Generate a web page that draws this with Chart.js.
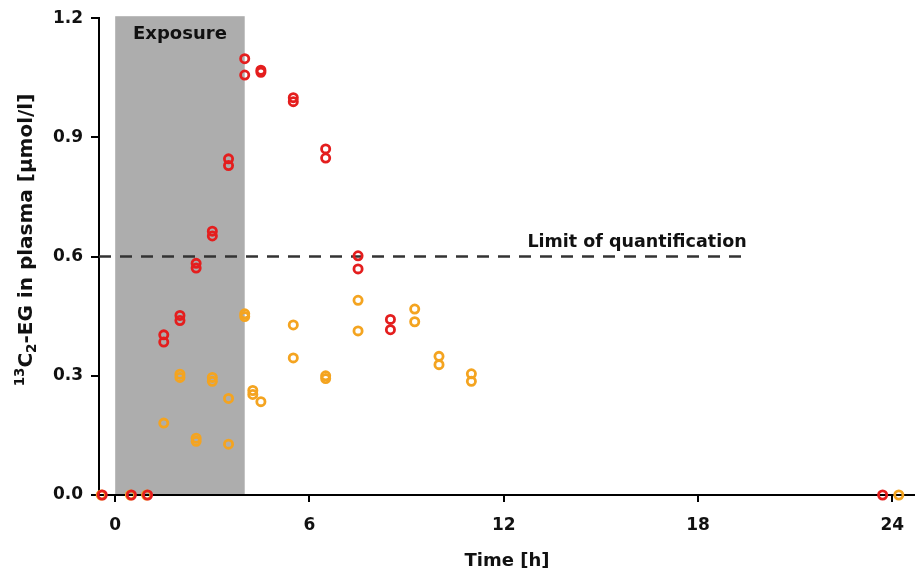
<!DOCTYPE html>
<html>
<head>
<meta charset="utf-8">
<script src="https://cdn.jsdelivr.net/npm/chart.js@4/dist/chart.umd.min.js"></script>
<style>
  html, body { margin: 0; padding: 0; background: #fff; }
  #wrap { width: 915px; height: 573px; }
</style>
</head>
<body>
<div id="wrap"><canvas id="chart" width="915" height="573"></canvas></div>
<script>
// time points [h] and 13C2-EG plasma concentrations [umol/l]
const redTime = [-0.4, 0.5, 1.0, 1.5, 1.5, 2, 2, 2.5, 2.5, 3, 3, 3.5, 3.5, 4, 4, 4.5, 4.5, 5.5, 5.5, 6.5, 6.5, 7.5, 7.5, 8.5, 8.5, 23.7];
const redConc = [0, 0, 0, 0.403, 0.385, 0.452, 0.439, 0.583, 0.571, 0.664, 0.652, 0.846, 0.829, 1.098, 1.057, 1.069, 1.064, 1.0, 0.99, 0.871, 0.848, 0.602, 0.569, 0.442, 0.416, 0];

const orangeTime = [-0.43, 0.47, 0.97, 1.5, 2, 2, 2.5, 2.5, 3, 3, 3.5, 3.5, 4, 4, 4.25, 4.25, 4.5, 5.5, 5.5, 6.5, 6.5, 7.5, 7.5, 9.25, 9.25, 10, 10, 11, 11, 24.2];
const orangeConc = [0, 0, 0, 0.181, 0.304, 0.296, 0.143, 0.135, 0.296, 0.286, 0.243, 0.128, 0.456, 0.449, 0.263, 0.253, 0.235, 0.428, 0.345, 0.300, 0.293, 0.490, 0.413, 0.468, 0.436, 0.349, 0.328, 0.305, 0.286, 0];

const xTickValues = [0, 2, 4, 6, 8, 10, 12, 14, 16, 18, 20, 22, 24];
const yTickValues = [0, 0.15, 0.3, 0.45, 0.6, 0.75, 0.9, 1.05, 1.2];

const exposureStart = 0;
const exposureEnd = 4;
const loqValue = 0.6;
const loqRange = [-0.5, 19.5];

const RED = '#e41e1e';
const ORANGE = '#f4a420';
const FONT = '"DejaVu Sans", "Liberation Sans", sans-serif';

const toPoints = (xs, ys) => xs.map((x, i) => ({ x: x, y: ys[i] }));

// grey exposure band + annotations drawn from the scales
const annotations = {
    id: 'annotations',
    beforeDraw(chart) {
        const { ctx, scales: { x, y } } = chart;
        ctx.save();
        ctx.fillStyle = '#adadad';
        const x0 = x.getPixelForValue(exposureStart);
        const x1 = x.getPixelForValue(exposureEnd);
        const yTop = y.getPixelForValue(1.2) - 2;
        const yBot = y.getPixelForValue(0);
        ctx.fillRect(x0, yTop, x1 - x0, yBot - yTop);
        ctx.restore();
    },
    afterDatasetsDraw(chart) {
        const { ctx, scales: { x, y } } = chart;
        ctx.save();
        ctx.fillStyle = '#111';
        ctx.font = 'bold 18px ' + FONT;
        ctx.textAlign = 'center';
        ctx.textBaseline = 'alphabetic';
        ctx.fillText('Exposure', x.getPixelForValue((exposureStart + exposureEnd) / 2), y.getPixelForValue(1.2) + 21);

        ctx.font = 'bold 17.5px ' + FONT;
        ctx.textAlign = 'right';
        ctx.fillText('Limit of quantification', x.getPixelForValue(loqRange[1]), y.getPixelForValue(loqValue) - 10);
        ctx.restore();
    },
    afterDraw(chart) {
        // y axis title with superscript / subscript
        const { ctx } = chart;
        const big = 'bold 20px ' + FONT;
        const small = 'bold 13.5px ' + FONT;
        const parts = [
            { t: '13', f: small, dy: -8 },
            { t: 'C', f: big, dy: 0 },
            { t: '2', f: small, dy: 4 },
            { t: '-EG in plasma [µmol/l]', f: big, dy: 0 }
        ];
        ctx.save();
        let total = 0;
        parts.forEach(p => { ctx.font = p.f; p.w = ctx.measureText(p.t).width; total += p.w; });
        ctx.translate(32, 240);
        ctx.rotate(-Math.PI / 2);
        ctx.fillStyle = '#111';
        ctx.textBaseline = 'alphabetic';
        ctx.textAlign = 'left';
        let cx = -total / 2;
        parts.forEach(p => {
            ctx.font = p.f;
            ctx.fillText(p.t, cx, p.dy);
            cx += p.w;
        });
        ctx.restore();
    }
};

const chart = new Chart(document.getElementById('chart'), {
    type: 'scatter',
    data: {
        datasets: [
            {
                label: 'Limit of quantification',
                type: 'line',
                data: toPoints(loqRange, [loqValue, loqValue]),
                borderColor: '#333',
                borderWidth: 2.5,
                borderDash: [12, 9],
                pointRadius: 0,
                fill: false,
                order: 3
            },
            {
                label: 'red',
                data: toPoints(redTime, redConc),
                borderColor: RED,
                backgroundColor: 'rgba(0,0,0,0)',
                pointRadius: 4.1,
                pointBorderWidth: 2.8,
                clip: false,
                order: 1
            },
            {
                label: 'orange',
                data: toPoints(orangeTime, orangeConc),
                borderColor: ORANGE,
                backgroundColor: 'rgba(0,0,0,0)',
                pointRadius: 4.1,
                pointBorderWidth: 2.8,
                clip: false,
                order: 2
            }
        ]
    },
    options: {
        responsive: false,
        animation: false,
        layout: {
            autoPadding: false,
            padding: { top: 15, right: 0, left: 0, bottom: 0 }
        },
        plugins: {
            legend: { display: false },
            tooltip: { enabled: false }
        },
        scales: {
            x: {
                type: 'linear',
                min: -0.5,
                max: 24.7,
                afterBuildTicks: (scale) => {
                    scale.ticks = xTickValues.map(v => ({ value: v }));
                },
                afterFit: (scale) => {
                    scale.height = 78;
                    scale.paddingLeft = 0;
                    scale.paddingRight = 0;
                },
                ticks: {
                    autoSkip: false,
                    maxRotation: 0,
                    padding: 13,
                    color: '#111',
                    font: { family: FONT, size: 17, weight: 'bold' },
                    callback: (v) => (v % 6 === 0 ? String(v) : null)
                },
                grid: {
                    drawOnChartArea: false,
                    drawTicks: true,
                    tickLength: 7,
                    lineWidth: 2,
                    color: '#000'
                },
                border: { display: true, color: '#000', width: 2 },
                title: {
                    display: true,
                    text: 'Time [h]',
                    color: '#111',
                    font: { family: FONT, size: 18, weight: 'bold' },
                    padding: { top: 0, bottom: 1 }
                }
            },
            y: {
                type: 'linear',
                min: 0,
                max: 1.2,
                afterBuildTicks: (scale) => {
                    scale.ticks = yTickValues.map(v => ({ value: v }));
                },
                afterFit: (scale) => { scale.width = 99; },
                ticks: {
                    autoSkip: false,
                    padding: 8,
                    color: '#111',
                    font: { family: FONT, size: 17, weight: 'bold' },
                    callback: (v) => {
                        const k = v / 0.3;
                        return Math.abs(k - Math.round(k)) < 1e-6 ? v.toFixed(1) : null;
                    }
                },
                grid: {
                    drawOnChartArea: false,
                    drawTicks: true,
                    tickLength: 8,
                    lineWidth: 2,
                    color: '#000'
                },
                border: { display: true, color: '#000', width: 2 }
            }
        }
    },
    plugins: [annotations]
});
</script>
</body>
</html>
